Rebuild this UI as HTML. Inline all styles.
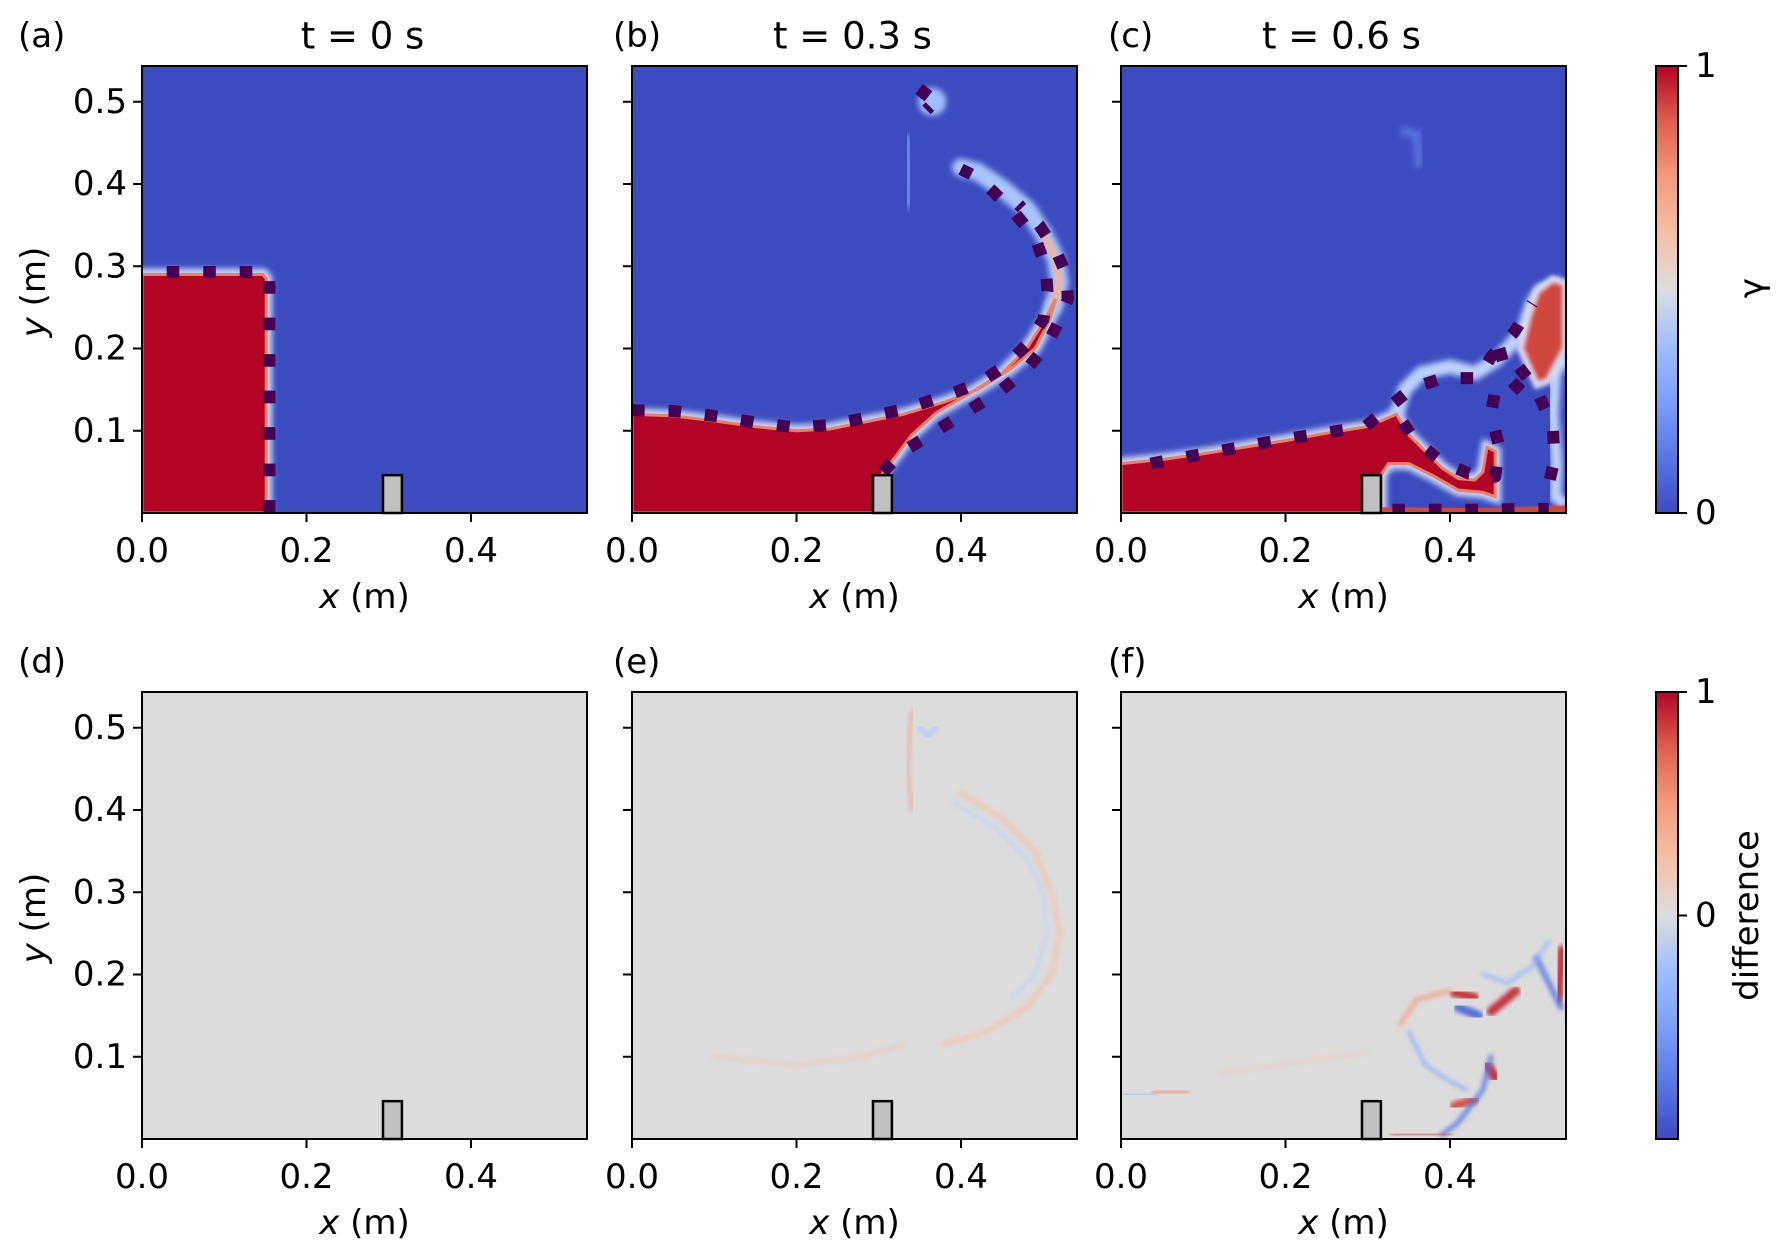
<!DOCTYPE html>
<html><head><meta charset="utf-8"><style>
html,body{margin:0;padding:0;background:#fff;}
svg{display:block;font-family:"DejaVu Sans","Liberation Sans",sans-serif;}
</style></head><body>
<svg id="fig" width="1779" height="1256" viewBox="0 0 1779 1256" xmlns="http://www.w3.org/2000/svg">
<defs>
<filter id="blur3" x="-20%" y="-20%" width="140%" height="140%"><feGaussianBlur stdDeviation="3"/></filter>
<filter id="blur2" x="-20%" y="-20%" width="140%" height="140%"><feGaussianBlur stdDeviation="2"/></filter>
<linearGradient id="cw" x1="0" y1="1" x2="0" y2="0">
<stop offset="0" stop-color="#3b4cc0"/><stop offset="0.125" stop-color="#5977e3"/><stop offset="0.25" stop-color="#7b9ff9"/><stop offset="0.375" stop-color="#9ebeff"/><stop offset="0.5" stop-color="#dddcdc"/><stop offset="0.625" stop-color="#f6bfa6"/><stop offset="0.75" stop-color="#f49a7b"/><stop offset="0.875" stop-color="#de604d"/><stop offset="1" stop-color="#b40426"/>
</linearGradient>
</defs>
<g id="root"></g>
</svg>
<script>
// ---- data (metres) ----
const xTicks = [0.0, 0.2, 0.4];
const xTickLabels = ["0.0", "0.2", "0.4"];
const yTicks = [0.1, 0.2, 0.3, 0.4, 0.5];
const yTickLabels = ["0.1", "0.2", "0.3", "0.4", "0.5"];
const titles = ["t = 0 s", "t = 0.3 s", "t = 0.6 s"];
const panelTags = ["(a)", "(b)", "(c)", "(d)", "(e)", "(f)"];
const obstacleX = [0.293, 0.316];
const obstacleH = 0.046;
// fluid regions (gamma=1)
const fluidA = [[0,0],[0,0.29],[0.147,0.29],[0.151,0.285],[0.151,0]];
const fluidB = [[0,0],[0,0.12],[0.05,0.118],[0.1,0.112],[0.15,0.105],[0.2,0.1],[0.24,0.102],[0.28,0.11],[0.33,0.12],[0.38,0.135],[0.42,0.15],[0.46,0.175],[0.49,0.2],[0.508,0.235],[0.515,0.26],[0.502,0.235],[0.48,0.2],[0.45,0.17],[0.41,0.145],[0.37,0.122],[0.34,0.095],[0.32,0.068],[0.305,0.05],[0.3,0]];
const fluidC = [[0,0],[0,0.06],[0.05,0.065],[0.1,0.072],[0.15,0.08],[0.2,0.088],[0.25,0.097],[0.3,0.105],[0.335,0.12],[0.35,0.095],[0.37,0.075],[0.39,0.055],[0.41,0.042],[0.43,0.04],[0.44,0.05],[0.445,0.08],[0.455,0.075],[0.455,0.02],[0.44,0.025],[0.41,0.028],[0.38,0.045],[0.35,0.06],[0.325,0.06],[0.316,0.046],[0.316,0]];
const blobC = [[0.485,0.2],[0.495,0.24],[0.505,0.27],[0.525,0.285],[0.541,0.28],[0.541,0.2],[0.53,0.18],[0.52,0.16],[0.505,0.155]];
const stripC = [[0.316,0],[0.316,0.007],[0.43,0.006],[0.541,0.009],[0.541,0]];
// thin light interface bands
const jetArcB = [[0.512,0.25],[0.52,0.28],[0.515,0.31],[0.5,0.34],[0.48,0.37],[0.45,0.395],[0.42,0.415],[0.4,0.42]];
const bubbleC = [[0.335,0.12],[0.345,0.15],[0.365,0.17],[0.4,0.178],[0.43,0.17],[0.455,0.185],[0.475,0.205],[0.49,0.225],[0.5,0.255],[0.51,0.27],[0.535,0.278]];
const loopC = [[0.541,0.19],[0.528,0.17],[0.525,0.12],[0.53,0.06],[0.528,0.02],[0.541,0.01]];
// dashed reference interfaces
const dashA = [[[0.03,0.293],[0.15,0.293],[0.155,0.288],[0.155,0]]];
const dashB = [
 [[0,0.125],[0.05,0.124],[0.1,0.118],[0.15,0.11],[0.2,0.104],[0.24,0.107],[0.28,0.115],[0.33,0.126],[0.38,0.142],[0.42,0.157],[0.455,0.18],[0.48,0.205],[0.5,0.235],[0.505,0.27],[0.503,0.3],[0.49,0.335],[0.465,0.365],[0.44,0.39],[0.42,0.408],[0.4,0.418]],
 [[0.305,0.05],[0.33,0.075],[0.37,0.1],[0.41,0.125],[0.45,0.15],[0.48,0.175],[0.505,0.205],[0.52,0.235],[0.53,0.26],[0.528,0.29],[0.515,0.32],[0.495,0.35],[0.47,0.375]],
 [[0.35,0.505],[0.36,0.518],[0.368,0.5],[0.358,0.49]]];
const dashC = [
 [[0.036,0.06],[0.1,0.072],[0.2,0.09],[0.297,0.105],[0.326,0.129],[0.354,0.152],[0.392,0.164],[0.435,0.164],[0.45,0.19],[0.478,0.22],[0.5,0.255]],
 [[0.343,0.11],[0.358,0.088],[0.39,0.062],[0.423,0.048],[0.455,0.044],[0.46,0.08],[0.45,0.12],[0.455,0.15]],
 [[0.33,0.004],[0.43,0.004],[0.52,0.005]],
 [[0.484,0.177],[0.505,0.15],[0.525,0.105],[0.527,0.065],[0.52,0.035]],
 [[0.46,0.2],[0.47,0.165],[0.49,0.145],[0.51,0.15]]];
// difference streaks: [points, colour, width, opacity]
const diffD = [[[[0,0.29],[0.15,0.29]],"#9ebeff",3,0.6],[[[0.153,0.29],[0.153,0]],"#f6bfa6",3,0.5],[[[0.145,0.29],[0.158,0.29]],"#f49a7b",4,0.8]];
const diffE = [[[[0.34,0.52],[0.337,0.49],[0.335,0.45],[0.34,0.4]],"#f49a7b",5,0.5],[[[0.35,0.5],[0.36,0.49],[0.37,0.5]],"#9ebeff",5,0.6],[[[0.4,0.42],[0.45,0.39],[0.49,0.35],[0.51,0.3],[0.52,0.25],[0.51,0.2],[0.48,0.16],[0.43,0.13],[0.38,0.115]],"#f6bfa6",6,0.6],[[[0.39,0.41],[0.44,0.38],[0.48,0.34],[0.5,0.3],[0.505,0.25],[0.49,0.2],[0.46,0.17]],"#bcd2fb",4,0.6],[[[0.1,0.1],[0.2,0.09],[0.28,0.1],[0.33,0.115]],"#f6bfa6",4,0.5]];
const diffF = [[[[0.005,0.055],[0.04,0.054]],"#9ebeff",5,0.8],[[[0.04,0.056],[0.08,0.058]],"#f49a7b",6,0.8],[[[0.405,0.178],[0.43,0.172]],"#c0282f",9,0.9],[[[0.41,0.16],[0.435,0.15]],"#4a62d5",9,0.9],[[[0.45,0.155],[0.48,0.18]],"#c0282f",9,0.9],[[[0.532,0.17],[0.536,0.23]],"#c0282f",9,0.9],[[[0.505,0.22],[0.52,0.19],[0.535,0.16]],"#5977e3",6,0.8],[[[0.445,0.09],[0.455,0.075]],"#c0282f",10,0.9],[[[0.405,0.04],[0.43,0.048]],"#d04a3f",9,0.9],[[[0.45,0.1],[0.44,0.06],[0.41,0.02],[0.39,0.005]],"#5977e3",5,0.8],[[[0.33,0.005],[0.4,0.006]],"#de604d",5,0.8],[[[0.34,0.14],[0.36,0.17],[0.4,0.18]],"#f49a7b",5,0.7],[[[0.35,0.13],[0.37,0.09],[0.4,0.07],[0.42,0.06]],"#8db0fe",4,0.8],[[[0.44,0.2],[0.47,0.19],[0.5,0.21],[0.52,0.24]],"#8db0fe",4,0.7],[[[0.5,0.07],[0.541,0.07]],"#f49a7b",6,0.6],[[[0.12,0.08],[0.3,0.105]],"#f6bfa6",3,0.5]];

// ---- layout ----
const S = 822.5;                 // px per metre
const lefts = [142, 632, 1121];
const tagX = [18, 613, 1108];
const bottoms = [513, 1139];
const PW = 445, PH = 447;
const FS = 34;
const NS = "http://www.w3.org/2000/svg";
const root = document.getElementById('root');
function el(tag, attrs, parent) {
  const e = document.createElementNS(NS, tag);
  for (const k in attrs) e.setAttribute(k, attrs[k]);
  (parent || root).appendChild(e);
  return e;
}
function sx(p, x) { return lefts[p] + x * S; }
function sy(r, y) { return bottoms[r] - y * S; }
function pts(p, r, arr) { return arr.map(q => sx(p, q[0]).toFixed(1) + "," + sy(r, q[1]).toFixed(1)).join(" "); }
function txt(x, y, s, size, anchor, parent, extra) {
  const t = el('text', Object.assign({x: x, y: y, 'font-size': size, 'text-anchor': anchor || 'middle', 'dominant-baseline': 'central', fill: '#000'}, extra || {}), parent);
  t.textContent = s;
  return t;
}

const blue = "#3b4cc0", red = "#b40426", grey = "#dcdcdc", dashCol = "#440154";
const fluids = [fluidA, fluidB, fluidC];
const dashes = [dashA, dashB, dashC];
const diffs = [diffD, diffE, diffF];

for (let r = 0; r < 2; r++) {
  for (let p = 0; p < 3; p++) {
    const top = bottoms[r] - PH;
    const g = el('g', {});
    
    
    const cid = 'clip' + r + p;
    const cp = el('clipPath', {id: cid}, g);
    el('rect', {x: lefts[p], y: top, width: PW, height: PH}, cp);
    const inner = el('g', {'clip-path': 'url(#' + cid + ')'}, g);
    if (r === 0) {
      el('rect', {x: lefts[p], y: top, width: PW, height: PH, fill: blue}, inner);
      const f = fluids[p];
      el('polygon', {points: pts(p, r, f), fill: 'none', stroke: '#c8d6f4', 'stroke-width': 12, filter: 'url(#blur3)'}, inner);
      if (p === 1) {
        el('polyline', {points: pts(p, r, jetArcB), fill: 'none', stroke: '#a9c4fb', 'stroke-width': 18, 'stroke-linecap': 'round', filter: 'url(#blur3)'}, inner);
        el('polyline', {points: pts(p, r, jetArcB.slice(0, 4)), fill: 'none', stroke: '#f2b49a', 'stroke-width': 7, filter: 'url(#blur2)'}, inner);
        el('circle', {cx: sx(1, 0.365), cy: sy(0, 0.5), r: 14, fill: '#9ebeff', filter: 'url(#blur3)'}, inner);
        el('line', {x1: sx(1, 0.335), y1: sy(0, 0.46), x2: sx(1, 0.337), y2: sy(0, 0.37), stroke: '#6f8ff0', 'stroke-width': 8, filter: 'url(#blur3)'}, inner);
      }
      if (p === 2) {
        el('polyline', {points: pts(p, r, bubbleC), fill: 'none', stroke: '#bcd2fb', 'stroke-width': 14, filter: 'url(#blur3)'}, inner);
        el('polyline', {points: pts(p, r, loopC), fill: 'none', stroke: '#bcd2fb', 'stroke-width': 12, filter: 'url(#blur3)'}, inner);
        el('polygon', {points: pts(p, r, blobC), fill: '#d0473d', stroke: '#dcdcf0', 'stroke-width': 6, filter: 'url(#blur2)'}, inner);
        el('polygon', {points: pts(p, r, stripC), fill: '#d0473d'}, inner);
        el('polyline', {points: pts(p, r, [[0.34,0.465],[0.36,0.46],[0.362,0.42]]), fill: 'none', stroke: '#5670dc', 'stroke-width': 9, filter: 'url(#blur3)'}, inner);
      }
      const fp = el('polygon', {points: pts(p, r, f), fill: red, stroke: '#e8806a', 'stroke-width': 3});
      inner.appendChild(fp);
      
      
      for (const d of dashes[p]) {
        const dl = el('polyline', {points: pts(p, r, d), fill: 'none', stroke: dashCol, 'stroke-width': 12, 'stroke-dasharray': '12.6 23.9', 'stroke-linejoin': 'round'}, inner);
        
        
      }
    } else {
      el('rect', {x: lefts[p], y: top, width: PW, height: PH, fill: grey}, inner);
      for (const s of diffs[p]) {
        const sl = el('polyline', {points: pts(p, r, s[0]), fill: 'none', stroke: s[1], 'stroke-width': s[2], opacity: s[3], 'stroke-linecap': 'round', filter: 'url(#blur2)'}, inner);
        
        
      }
    }
    // obstacle
    const ob = el('rect', {x: sx(p, obstacleX[0]), y: sy(r, obstacleH), width: (obstacleX[1] - obstacleX[0]) * S, height: obstacleH * S, fill: '#c0c0c0', stroke: '#000', 'stroke-width': 2.5}, g);
    
    
    // frame
    el('rect', {x: lefts[p], y: top, width: PW, height: PH, fill: 'none', stroke: '#000', 'stroke-width': 2}, g);
    // x ticks
    for (let i = 0; i < xTicks.length; i++) {
      const x = sx(p, xTicks[i]);
      el('line', {x1: x, y1: bottoms[r], x2: x, y2: bottoms[r] + 9, stroke: '#000', 'stroke-width': 2}, g);
      const tl = txt(x, bottoms[r] + 38, xTickLabels[i], FS, 'middle', g);
      
      
    }
    const xl = el('text', {x: lefts[p] + PW / 2, y: bottoms[r] + 84, 'font-size': FS, 'text-anchor': 'middle', 'dominant-baseline': 'central'}, g);
    xl.innerHTML = '<tspan font-style="italic">x</tspan> (m)';
    
    
    // y ticks
    for (let i = 0; i < yTicks.length; i++) {
      const y = sy(r, yTicks[i]);
      el('line', {x1: lefts[p] - 9, y1: y, x2: lefts[p], y2: y, stroke: '#000', 'stroke-width': 2}, g);
      if (p === 0) {
        const yl = txt(lefts[p] - 15, y, yTickLabels[i], FS, 'end', g);
        
        
      }
    }
    if (p === 0) {
      const cy = top + 226;
      const yt = el('text', {x: 34, y: cy, 'font-size': FS, 'text-anchor': 'middle', 'dominant-baseline': 'central', transform: 'rotate(-90 34 ' + cy + ')'}, g);
      yt.innerHTML = '<tspan font-style="italic">y</tspan> (m)';
      
      
    }
    // tag
    const tg = txt(tagX[p], top - 30, panelTags[r * 3 + p], FS, 'start', g);
    
    
    if (r === 0) {
      const tt = txt(lefts[p] + PW / 2 - 2, top - 30, titles[p], 37, 'middle', g);
      
      
    }
  }
  // colorbar
  const top = bottoms[r] - PH;
  const cb = el('g', {});
  
  
  el('rect', {x: 1656, y: top, width: 22, height: PH, fill: 'url(#cw)', stroke: '#000', 'stroke-width': 2}, cb);
  const cbTicks = r === 0 ? [[0, "1"], [PH, "0"]] : [[0, "1"], [PH / 2, "0"]];
  for (const t of cbTicks) {
    el('line', {x1: 1678, y1: top + t[0], x2: 1687, y2: top + t[0], stroke: '#000', 'stroke-width': 2}, cb);
    const c = txt(1695, top + t[0], t[1], FS, 'start', cb);
    
    
  }
  const lab = r === 0 ? 'γ' : 'difference';
  const ly = r === 0 ? top + 222 : top + PH / 2;
  const lx = r === 0 ? 1752 : 1747;
  const cl = txt(lx, ly, lab, FS, 'middle', cb, {transform: 'rotate(-90 ' + lx + ' ' + ly + ')'});
  
  
}
</script>
</body></html>
